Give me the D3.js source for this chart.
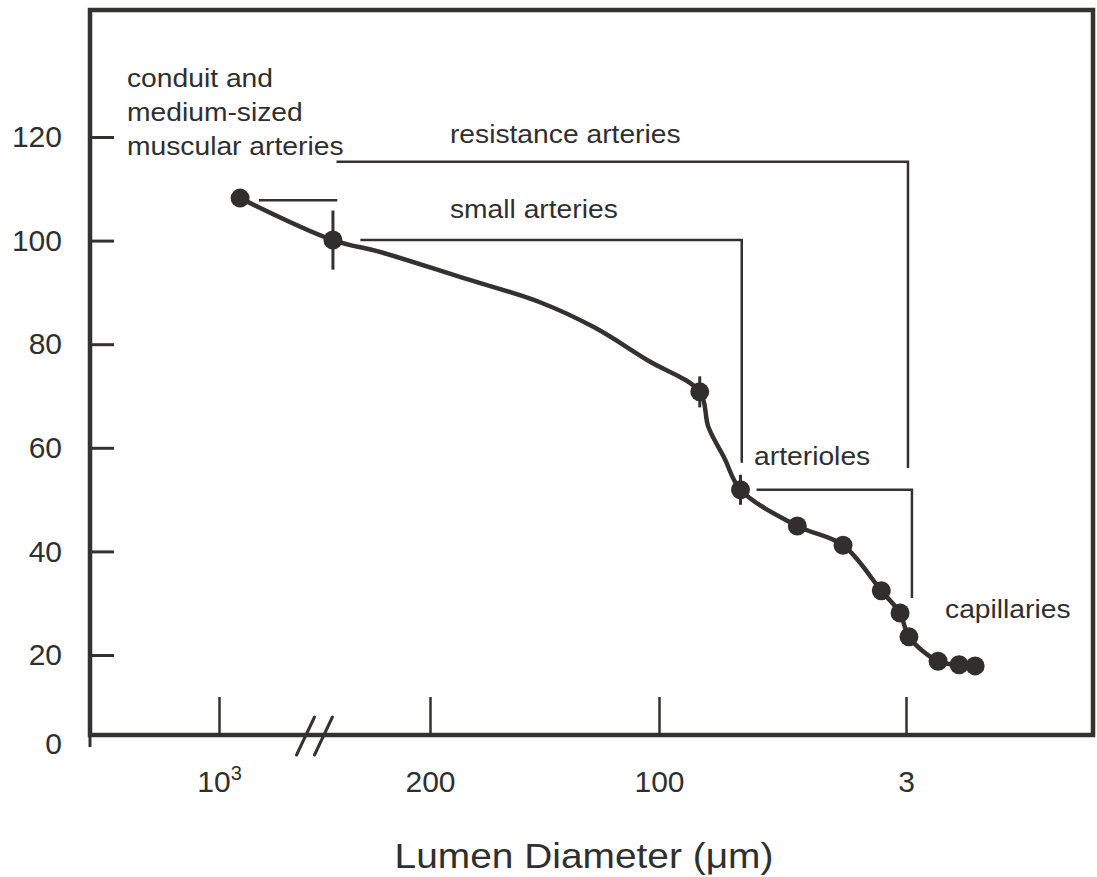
<!DOCTYPE html>
<html>
<head>
<meta charset="utf-8">
<script src="https://cdn.jsdelivr.net/npm/d3@7"></script>
<style>
  body { margin: 0; background: #fff; }
  svg { display: block; font-family: "Liberation Sans", Arial, sans-serif; }
</style>
</head>
<body>
<svg id="chart" width="1097" height="877"></svg>
<script>
// x is a schematic position along the vascular tree: tick i sits at position i
const xTickPos = [1, 2, 3, 4];
const xTickLabels = ["10|3", "200", "100", "3"];
const yTicks = [20, 40, 60, 80, 100, 120];

// mean pressure
const vesselPos = [1.10, 1.54, 3.165, 3.33, 3.56, 3.745, 3.90, 3.976, 4.012, 4.13, 4.215, 4.28];
const pressure  = [108.2, 100.1, 70.8, 51.9, 44.9, 41.2, 32.4, 28.1, 23.5, 18.8, 18.1, 17.9];
const errorHalf = [0, 5.7, 3.0, 2.9, 0, 0, 0, 0, 0, 0, 0, 0];

// where the drawn curve bends between the measured points
const traceX = [1.764, 2.13, 2.48, 2.715, 2.95, 3.20, 3.265];
const traceY = [97.8, 93.0, 88.1, 83.3, 76.9, 64.0, 58.0];

// segment brackets
const bracketNames = ["conduit", "resistance", "small", "arterioles"];
const bracketX0 = [1.189, 1.557, 1.67, 3.395];
const bracketX1 = [1.561, 4.008, 3.335, 4.024];
const bracketY  = [107.8, 115.2, 100.1, 51.9];
const bracketDrop = [null, 56.1, 57.1, 31.0];

// text labels: [position, pressure] of the baseline start
const labelText = ["resistance arteries", "small arteries", "arterioles", "capillaries"];
const labelX = [2.087, 2.087, 3.385, 4.158];
const labelY = [118.8, 104.4, 56.7, 27.1];
const conduitLines = ["conduit and", "medium-sized", "muscular arteries"];

const ink = "#353131";
const frame = {left: 90, top: 10, right: 1093, bottom: 735};

let svg = d3.select("#chart");

let x = d3.scaleLinear()
    .domain([1, 2, 3, 4])
    .range([219, 430, 659, 906]);
let y = d3.scaleLinear()
    .domain([20, 120])
    .range([655, 137]);

// frame
svg.append("rect")
    .attr("x", frame.left).attr("y", frame.top)
    .attr("width", frame.right - frame.left).attr("height", frame.bottom - frame.top)
    .attr("fill", "none").attr("stroke", ink).attr("stroke-width", 4.5);
svg.append("line")
    .attr("x1", frame.left).attr("x2", frame.left)
    .attr("y1", frame.bottom).attr("y2", frame.bottom + 12)
    .attr("stroke", ink).attr("stroke-width", 3);

// y axis
let yAxis = svg.append("g")
    .attr("transform", `translate(${frame.left},0)`)
    .call(d3.axisLeft(y).tickValues(yTicks).tickSize(-24).tickPadding(28))
    .attr("font-family", null);
yAxis.select(".domain").remove();
yAxis.selectAll(".tick line").attr("stroke", ink).attr("stroke-width", 3);
yAxis.selectAll(".tick text")
    .attr("fill", "#2f2f2f").attr("font-size", 30);
svg.append("text")
    .attr("x", frame.left - 28).attr("y", frame.bottom + 8).attr("dy", "0.35em")
    .attr("text-anchor", "end").attr("fill", "#2f2f2f").attr("font-size", 30)
    .text("0");

// x axis
let xAxis = svg.append("g")
    .attr("transform", `translate(0,${frame.bottom})`)
    .call(d3.axisBottom(x).tickValues(xTickPos).tickSize(-38).tickPadding(36))
    .attr("font-family", null);
xAxis.select(".domain").remove();
xAxis.selectAll(".tick line").attr("stroke", ink).attr("stroke-width", 2.5);
xAxis.selectAll(".tick text")
    .attr("fill", "#2f2f2f").attr("font-size", 30)
    .each(function(d, i){
        let parts = xTickLabels[i].split("|");
        let t = d3.select(this).text(parts[0]);
        if(parts.length > 1){
            t.append("tspan").attr("font-size", 20).attr("dy", "-0.6em").text(parts[1]);
        }
    });

// axis break
const breakPos = [1.41, 1.495];
svg.selectAll(".break")
    .data(breakPos)
    .enter()
    .append("line")
    .attr("class", "break")
    .attr("x1", d => x(d) - 9).attr("y1", frame.bottom + 20)
    .attr("x2", d => x(d) + 9).attr("y2", frame.bottom - 18)
    .attr("stroke", ink).attr("stroke-width", 3).attr("stroke-linecap", "round");

svg.append("text")
    .attr("x", 584).attr("y", 868)
    .attr("text-anchor", "middle").attr("fill", "#2f2f2f")
    .attr("font-size", 36)
    .attr("transform", "translate(584,0) scale(1.08,1) translate(-584,0)")
    .text("Lumen Diameter (\u03BCm)");

// brackets
bracketNames.forEach(function(name, i){
    let pts = [[x(bracketX0[i]), y(bracketY[i])], [x(bracketX1[i]), y(bracketY[i])]];
    if(bracketDrop[i] !== null){
        pts.push([x(bracketX1[i]), y(bracketDrop[i])]);
    }
    svg.append("path")
        .attr("class", "bracket " + name)
        .attr("d", d3.line()(pts))
        .attr("fill", "none").attr("stroke", ink).attr("stroke-width", 2.5);
});

// labels
function addLabel(px, py, txt){
    svg.append("text")
        .attr("transform", `translate(${px},${py}) scale(1.13,1)`)
        .attr("fill", "#2f2f2f").attr("font-size", 25)
        .text(txt);
}
labelText.forEach((t, i) => addLabel(x(labelX[i]), y(labelY[i]), t));
conduitLines.forEach((t, i) => addLabel(127, 87 + i * 34, t));

// error bars
vesselPos.forEach(function(d, i){
    if(errorHalf[i] > 0){
        svg.append("line")
            .attr("class", "err")
            .attr("x1", x(d)).attr("x2", x(d))
            .attr("y1", y(pressure[i] - errorHalf[i]))
            .attr("y2", y(pressure[i] + errorHalf[i]))
            .attr("stroke", ink).attr("stroke-width", 3);
    }
});

// curve
let curvePts = vesselPos.map((d, i) => [d, pressure[i]])
    .concat(traceX.map((d, i) => [d, traceY[i]]))
    .sort((a, b) => a[0] - b[0]);
svg.append("path")
    .attr("d", d3.line()
        .x(d => x(d[0]))
        .y(d => y(d[1]))
        .curve(d3.curveCatmullRom.alpha(0.5))(curvePts))
    .attr("fill", "none").attr("stroke", ink).attr("stroke-width", 4.5);

// points
svg.selectAll(".pt")
    .data(vesselPos)
    .enter()
    .append("circle")
    .attr("class", "pt")
    .attr("cx", d => x(d))
    .attr("cy", (d, i) => y(pressure[i]))
    .attr("r", 9.5)
    .attr("fill", "#332e2e");
</script>
</body>
</html>
